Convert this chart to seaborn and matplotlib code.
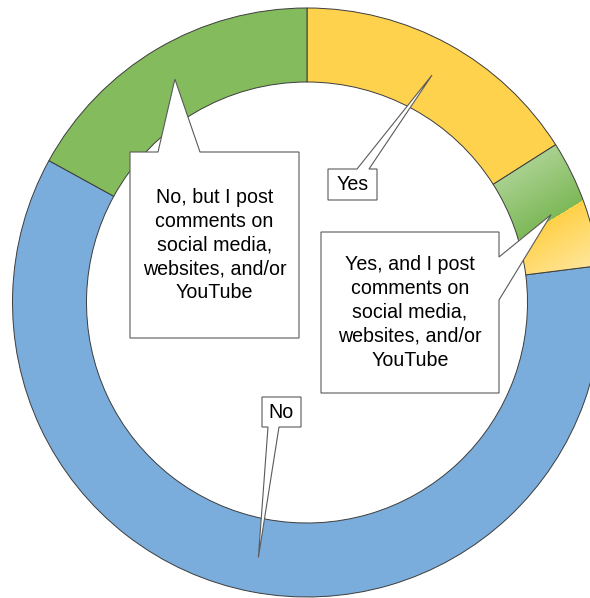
import numpy as np
import matplotlib
matplotlib.use("Agg")
import matplotlib.pyplot as plt
from matplotlib.patches import Polygon
import seaborn as sns

# Survey answers and their shares (percent)
categories = [
    "Yes",
    "Yes, and I post comments on social media, websites, and/or YouTube",
    "No",
    "No, but I post comments on social media, websites, and/or YouTube",
]
shares = [16, 7, 60, 17]
label_texts = [
    "Yes",
    "Yes, and I post\ncomments on\nsocial media,\nwebsites, and/or\nYouTube",
    "No",
    "No, but I post\ncomments on\nsocial media,\nwebsites, and/or\nYouTube",
]
fill_colors = ["#FFD24E", "none", "#7AADDB", "#83BB5D"]

sns.set_theme(style="white")
plt.rcParams["font.family"] = ["Liberation Sans", "DejaVu Sans"]

W, H = 590, 598
fig = plt.figure(figsize=(W / 100, H / 100), dpi=100)
ax = fig.add_axes([0, 0, 1, 1])


def py(y):
    """Convert a top-down pixel row into the y-up data coordinate."""
    return H - y


cx, cy = 307.0, py(302.5)
R_OUT, RING = 294.5, 74.0

wedges, _ = ax.pie(
    shares,
    colors=fill_colors,
    startangle=90,
    counterclock=False,
    radius=R_OUT,
    center=(cx, cy),
    frame=False,
    wedgeprops=dict(width=RING, edgecolor="#3c3c3c", linewidth=0.7),
)

# Two-tone linear gradient (green -> yellow) inside the "Yes, and ..." slice
gw = wedges[1]
gw.set_zorder(3)
x0, x1, y0, y1 = 470, 605, 130, 290
xs = np.arange(x0, x1) + 0.5
ys = np.arange(y0, y1) + 0.5
XX, YY = np.meshgrid(xs, ys)
p = 0.524 * XX + 0.852 * YY
light_green = np.array([170, 209, 144]) / 255
dark_green = np.array([125, 185, 88]) / 255
strong_yellow = np.array([255, 209, 72]) / 255
pale_yellow = np.array([255, 231, 160]) / 255
split = 476.0
tg = np.clip((p - 414.0) / (split - 414.0), 0, 1)[..., None]
ty = np.clip((p - split) / (540.0 - split), 0, 1)[..., None]
img = np.where(p[..., None] < split,
               light_green * (1 - tg) + dark_green * tg,
               strong_yellow * (1 - ty) + pale_yellow * ty)
im = ax.imshow(img, extent=(x0, x1, py(y1), py(y0)), origin="upper",
               interpolation="bilinear", zorder=2)
im.set_clip_path(gw)

ax.set_xlim(0, W)
ax.set_ylim(0, H)
ax.set_aspect("auto")
ax.axis("off")

# Callout boxes: (left, top, right, bottom), side holding the pointer, base span
callouts = [
    ((328, 169, 377, 200), "top", (357, 369)),
    ((321, 232, 499, 393), "right", (257, 300)),
    ((262, 397, 301, 427), "bottom", (268, 279)),
    ((130, 152, 299, 338), "top", (158, 200)),
]
tip_r = R_OUT - RING / 2 + 2

for w, text, (box, side, base) in zip(wedges, label_texts, callouts):
    mid = np.deg2rad((w.theta1 + w.theta2) / 2)
    tx, ty_ = w.center[0] + tip_r * np.cos(mid), w.center[1] + tip_r * np.sin(mid)
    l, t, r, b = box
    if side == "top":
        pts = [(l, t), (base[0], t), None, (base[1], t), (r, t), (r, b), (l, b)]
    elif side == "bottom":
        pts = [(l, t), (r, t), (r, b), (base[1], b), None, (base[0], b), (l, b)]
    else:  # right
        pts = [(l, t), (r, t), (r, base[0]), None, (r, base[1]), (r, b), (l, b)]
    verts = [(tx, ty_) if q is None else (q[0], py(q[1])) for q in pts]
    ax.add_patch(Polygon(verts, closed=True, facecolor="white",
                         edgecolor="#5a5a5a", linewidth=0.8, zorder=5))
    ax.text((l + r) / 2, py((t + b) / 2), text, ha="center", va="center",
            fontsize=14.1, linespacing=1.33, color="black", zorder=6)

fig.savefig("out.png", dpi=100, facecolor="white")
